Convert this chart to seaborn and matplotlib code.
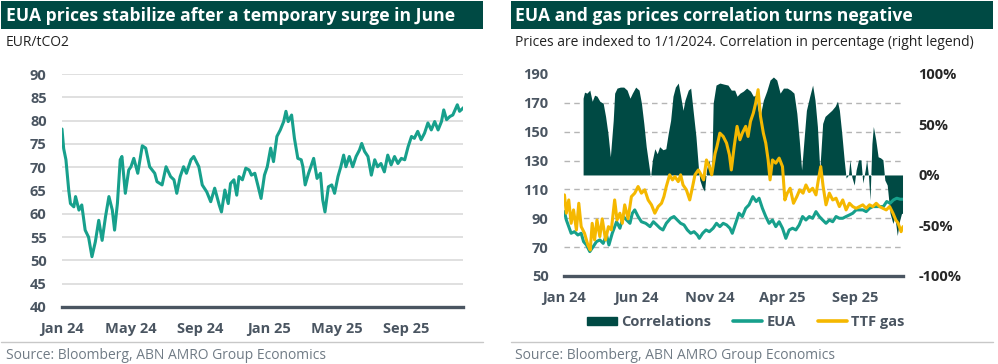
import numpy as np
import pandas as pd
import matplotlib
matplotlib.use("Agg")
import matplotlib.pyplot as plt
from matplotlib.patches import Rectangle, Patch
from matplotlib.lines import Line2D
import seaborn as sns

# --- data, x = days since 1 Jan 2024 ---
start = pd.Timestamp("2024-01-01")
end = pd.Timestamp("2025-12-10")

# left panel: EUA price, EUR/tCO2
eua_days = [0, 3, 7, 12, 15, 21, 24, 30, 35, 41, 47, 53, 59, 65, 71, 77, 83, 89, 93, 98,
            103, 106, 112, 118, 122, 127, 134, 142, 148, 155, 164, 168, 177, 184, 192, 198, 203, 209, 215, 220,
            228, 233, 242, 248, 256, 263, 270, 278, 282, 288, 294, 298, 304, 309, 313, 319, 325, 331, 335, 341,
            347, 352, 358, 363, 369, 374, 380, 386, 392, 396, 400, 406, 411, 417, 423, 426, 430, 436, 440, 445,
            451, 457, 461, 465, 471, 477, 482, 488, 493, 498, 502, 508, 514, 520, 526, 530, 535, 541, 547, 553,
            558, 564, 570, 576, 582, 588, 594, 600, 606, 612, 618, 623, 629, 635, 641, 647, 653, 659, 665, 671,
            675, 680, 686, 691, 699, 703, 711]
eua_price = [78.2, 74, 71.6, 65, 62.2, 61.5, 63.7, 60.8, 61.9, 56.5, 55, 50.8, 54, 58.6, 54.3, 59.4, 63.7, 60.8, 56.5, 62.2,
             71.6, 72.3, 64.4, 69.4, 70.1, 71.9, 68.7, 74.6, 74.1, 70.1, 68.7, 66.9, 66.2, 70.1, 68, 67.3, 64.4, 68, 70.1, 68.7,
             71.6, 72.3, 70.1, 66.2, 64.7, 62.6, 65.5, 61.9, 60.4, 65.1, 62.2, 66.5, 67.3, 64, 68, 67.3, 69.8, 69.4, 68.3, 68.7,
             65.8, 63.3, 68.3, 70.1, 74.1, 71.2, 76.6, 78, 79.8, 82, 79.8, 81.2, 76.2, 71.9, 71.6, 70.1, 66.2, 68.7, 70.1, 71.9,
             67.6, 68.7, 63, 60.4, 65.8, 66.2, 64.4, 68, 70.1, 72.6, 70.1, 72.3, 70.1, 72.3, 73.7, 75.1, 73.4, 72.3, 68.3, 71.6,
             70.1, 70.8, 69, 72.6, 70.5, 72.3, 70.8, 71.9, 71.6, 74.4, 76.6, 76.2, 77.7, 75.9, 77.3, 79.5, 78, 79.8, 78, 79.8,
             82.3, 80.2, 80.9, 81.2, 83.4, 82, 82.9]

# right panel: indexed prices (1/1/2024 = 100)
idx_eua_days = [1, 5, 10, 15, 22, 29, 36, 41, 47, 54, 61, 68, 75, 82, 89, 94, 101, 110, 117, 124,
                131, 138, 143, 148, 155, 162, 171, 180, 187, 194, 201, 207, 214, 223, 230, 237, 244, 251, 258, 265,
                272, 279, 283, 290, 297, 304, 312, 319, 326, 333, 340, 347, 352, 359, 366, 373, 380, 387, 395, 402,
                408, 415, 422, 429, 436, 443, 450, 457, 464, 471, 478, 485, 492, 499, 506, 513, 520, 527, 534, 541,
                548, 555, 562, 569, 576, 583, 590, 597, 604, 611, 618, 625, 632, 639, 646, 653, 661, 668, 675, 682,
                689, 696, 703, 709]
idx_eua = [94.6, 88.8, 84.2, 79.6, 80.7, 78.4, 79.6, 73.8, 71.5, 66.9, 70.3, 73.8, 75, 72.6, 78.4, 71.5, 79.6, 87.6, 83.1, 91.2,
           88.8, 86.5, 93.5, 95.8, 91.2, 87.6, 86.5, 84.2, 87.6, 85.4, 83.1, 81.9, 86.5, 90, 91.2, 88.8, 86.5, 85.4, 81.9, 79.6,
           80.7, 78.4, 76.1, 79.6, 81.9, 80.7, 83.1, 86.5, 84.2, 86.5, 85.4, 83.1, 79.6, 86.5, 93.5, 91.2, 96.9, 99.3, 105, 101.6,
           103.9, 96.9, 91.2, 86.5, 88.8, 84.2, 87.6, 83.1, 76.1, 81.9, 83.1, 81.9, 85.4, 91.2, 88.8, 91.2, 90, 94.6, 91.2, 88.8,
           86.5, 88.8, 87.6, 91.2, 90, 90, 91.2, 92.3, 93.5, 95.8, 95.8, 95.8, 94.6, 96.9, 98.1, 98.1, 98.1, 98.1, 101.6, 100.4,
           102.7, 103.9, 103.2, 103.2]

ttf_days = [1, 5, 10, 15, 20, 26, 31, 36, 43, 50, 55, 59, 64, 69, 75, 80, 87, 93, 99, 106,
            111, 117, 122, 127, 134, 141, 148, 155, 162, 169, 176, 183, 190, 197, 204, 209, 214, 221, 227, 232,
            239, 244, 249, 256, 263, 269, 274, 281, 285, 292, 298, 304, 309, 316, 320, 326, 333, 340, 346, 350,
            356, 362, 368, 373, 380, 385, 390, 396, 401, 406, 411, 417, 422, 427, 431, 436, 443, 450, 457, 462,
            467, 473, 480, 487, 493, 500, 506, 513, 520, 527, 532, 537, 542, 548, 555, 562, 569, 576, 583, 590,
            597, 604, 611, 618, 625, 632, 639, 646, 653, 660, 667, 674, 681, 688, 694, 699, 705, 709]
ttf_gas = [106.2, 93.5, 102.7, 86.5, 95.8, 81.9, 100.4, 84.2, 79.6, 71.5, 68, 86.5, 75, 88.8, 77.3, 89.6, 75, 84.2, 81.9, 102.7,
           88.8, 93.5, 86.5, 99.3, 89.6, 105, 107.4, 112, 107.4, 109.7, 102.7, 99.3, 93.5, 98.1, 100.4, 105, 112, 120.1, 116.6, 118.9,
           115.4, 120.1, 113.1, 109.7, 102.7, 112, 120.1, 123.5, 121.2, 116.6, 130.4, 125.8, 120.1, 134.9, 139.8, 149, 146.7, 142.1, 134, 123.5,
           139.8, 153.7, 144.4, 149, 153.7, 146.7, 157.1, 162.9, 169.9, 179.1, 160.6, 149, 142.1, 130.4, 116.6, 130.4, 128.2, 131.7, 125.8, 102.7,
           107.4, 110.8, 100.4, 105, 109.7, 107.4, 113.1, 108.5, 110.8, 106.2, 116.6, 125.8, 112, 99.3, 107.4, 102.7, 103.9, 98.1, 102.7, 95.8,
           100.4, 98.1, 96.9, 98.1, 99.3, 96.9, 99.3, 98.1, 100.4, 98.1, 96.9, 95.8, 98.1, 93.5, 88.8, 86.5, 80.7, 84.2]

# rolling correlation EUA vs TTF, %
corr_days = [40, 43, 48, 54, 59, 64, 69, 75, 82, 87, 92, 97, 103, 106, 111, 118, 125, 132, 138, 143,
             150, 157, 162, 167, 172, 178, 181, 185, 190, 195, 200, 207, 213, 218, 223, 228, 233, 239, 244, 249,
             253, 260, 265, 270, 276, 281, 284, 289, 294, 298, 303, 309, 312, 318, 326, 334, 343, 350, 357, 362,
             368, 375, 382, 390, 396, 401, 406, 410, 417, 424, 431, 438, 445, 452, 459, 467, 474, 481, 487, 492,
             497, 502, 507, 514, 520, 525, 530, 535, 541, 546, 553, 560, 567, 572, 576, 581, 586, 590, 595, 598,
             602, 607, 611, 616, 621, 625, 630, 633, 637, 640, 644, 647, 652, 657, 662, 667, 671, 676, 682, 688,
             692, 697, 702, 706, 708]
corr_pct = [76, 82, 81, 84, 73, 79, 78, 73, 71, 58, 41, 18, 54, 81, 86, 87, 87, 84, 76, 81,
            87, 84, 71, 51, 28, 8, -2, 15, 26, 21, 28, 25, 26, 41, 54, 78, 87, 91, 78, 64,
            74, 84, 86, 64, 38, 8, -5, -12, -16, 5, 15, 2, 71, 89, 91, 90, 89, 84, 84, 78,
            81, 83, 86, 83, 78, 79, 64, 58, 74, 83, 94, 97, 94, 81, 86, 86, 84, 81, 61, 35,
            5, 35, 64, 78, 89, 74, 48, 5, 51, 58, 61, 64, 68, 73, 64, 41, 15, -3, 0, 15,
            -2, -10, 5, 15, 15, -8, 5, 15, -2, -25, 31, 48, 35, 18, 17, 15, -5, -10, -38, -48,
            -41, -60, -45, -38, -38]

left_ticks = ["2024-01-01", "2024-05-01", "2024-09-01", "2025-01-01", "2025-05-01", "2025-09-01"]
right_ticks = ["2024-01-01", "2024-06-01", "2024-11-01", "2025-04-01", "2025-09-01"]


def to_dates(days):
    return start + pd.to_timedelta(days, unit="D")


# --- style ---
sns.set_theme(style="white")
plt.rcParams["font.family"] = ["Open Sans", "DejaVu Sans"]

DARK = "#004a44"
TEAL = "#17a08c"
GOLD = "#f5b800"
TXT = "#4a5561"
RED = "#ee1c25"
SRC = "#707b85"
TICK_FS = 10.5

fig = plt.figure(figsize=(9.98, 3.64), dpi=100)

# title bars, subtitles, source lines
for x0, w, title, sub, sx in [
    (0.001, 0.483, "EUA prices stabilize after a temporary surge in June", "EUR/tCO2", 0.006),
    (0.512, 0.483, "EUA and gas prices correlation turns negative",
     "Prices are indexed to 1/1/2024. Correlation in percentage (right legend)", 0.516),
]:
    fig.add_artist(Rectangle((x0, 0.921), w, 0.075, transform=fig.transFigure,
                             color=DARK, lw=0, zorder=0))
    fig.text(sx, 0.957, title, color="white", fontsize=12.6, fontweight="bold",
             va="center", ha="left")
    fig.text(sx, 0.884, sub, color="#222222", fontsize=10.0, va="center", ha="left")
    fig.add_artist(Line2D([x0, x0 + w], [0.061, 0.061], transform=fig.transFigure,
                          color="#c8c8c8", lw=1))
    fig.text(sx, 0.022, "Source: Bloomberg, ABN AMRO Group Economics", color=SRC,
             fontsize=10.0, va="center", ha="left")


def style_bottom(ax):
    for s in ["top", "left", "right"]:
        ax.spines[s].set_visible(False)
    ax.spines["bottom"].set_color(TXT)
    ax.spines["bottom"].set_linewidth(2.4)
    ax.tick_params(axis="x", direction="out", length=4, width=2, color=TXT,
                   labelsize=TICK_FS, labelcolor=TXT, pad=7)


# --- left chart ---
ax1 = fig.add_axes([0.0621, 0.1566, 0.4018, 0.640])
df_l = pd.DataFrame({"date": to_dates(eua_days), "price": eua_price})
sns.lineplot(data=df_l, x="date", y="price", ax=ax1, color=TEAL, lw=2.2)
ax1.set_xlim(start, end)
ax1.set_ylim(40, 90)
ax1.set_yticks(range(40, 91, 5))
ax1.grid(axis="y", color="#dadada", lw=1.2)
ax1.set_axisbelow(True)
ax1.set_xlabel("")
ax1.set_ylabel("")
xt = pd.to_datetime(left_ticks)
ax1.set_xticks(xt)
ax1.set_xticklabels([d.strftime("%b %y") for d in xt], fontweight="bold")
style_bottom(ax1)
ax1.tick_params(axis="y", length=0, labelsize=TICK_FS, labelcolor=TXT, pad=11)
for t in ax1.get_yticklabels():
    t.set_fontweight("bold")

# --- right chart ---
axc = fig.add_axes([0.5651, 0.2418, 0.3397, 0.555])
axp = axc.twinx()

axc.fill_between(to_dates(corr_days), 0, corr_pct, color=DARK, lw=0, zorder=2)
axc.set_xlim(start, end)
axc.set_ylim(-100, 100)
axc.set_yticks([-100, -50, 0, 50, 100])
axc.set_yticklabels(["-100%", "-50%", "0%", "50%", "100%"], fontweight="bold")
for t, v in zip(axc.get_yticklabels(), [-100, -50, 0, 50, 100]):
    t.set_color(RED if v < 0 else TXT)
axc.tick_params(axis="y", which="major", length=0, labelsize=TICK_FS, pad=11)
# dashed grid at the price levels of the left scale
price_levels = np.arange(50, 191, 20)
axc.set_yticks((price_levels - 120) / 0.7, minor=True)
axc.grid(False)
axc.grid(which="minor", axis="y", ls=(0, (4, 3)), color="#b5b5b5", lw=1.0, zorder=0)
axc.set_axisbelow(True)
rt = pd.to_datetime(right_ticks)
axc.set_xticks(rt)
axc.set_xticklabels([d.strftime("%b %y") for d in rt], fontweight="bold")
style_bottom(axc)

df_r = pd.DataFrame({"date": to_dates(idx_eua_days), "EUA": idx_eua})
df_g = pd.DataFrame({"date": to_dates(ttf_days), "TTF gas": ttf_gas})
sns.lineplot(data=df_r, x="date", y="EUA", ax=axp, color=TEAL, lw=2.2)
sns.lineplot(data=df_g, x="date", y="TTF gas", ax=axp, color=GOLD, lw=2.2)
axp.set_xlim(start, end)
axp.set_ylim(50, 190)
axp.yaxis.tick_left()
axp.set_yticks(price_levels)
axp.set_ylabel("")
axp.set_xlabel("")
axp.tick_params(axis="y", length=0, labelsize=TICK_FS, labelcolor=TXT, pad=11)
for t in axp.get_yticklabels():
    t.set_fontweight("bold")
for s in axp.spines.values():
    s.set_visible(False)
# keep correlation labels on the right after twinx
axc.yaxis.tick_right()
axc.tick_params(axis="y", which="both", length=0)

handles = [Patch(color=DARK, label="Correlations"),
           Line2D([], [], color=TEAL, lw=2.6, label="EUA"),
           Line2D([], [], color=GOLD, lw=2.6, label="TTF gas")]
leg = fig.legend(handles=handles, loc="center", bbox_to_anchor=(0.7475, 0.115), ncol=3,
                 frameon=False, fontsize=TICK_FS, handlelength=2.0, handleheight=0.55,
                 handletextpad=0.3, columnspacing=1.5, labelcolor=TXT)
for t in leg.get_texts():
    t.set_fontweight("bold")

fig.savefig("out.png", dpi=100)
